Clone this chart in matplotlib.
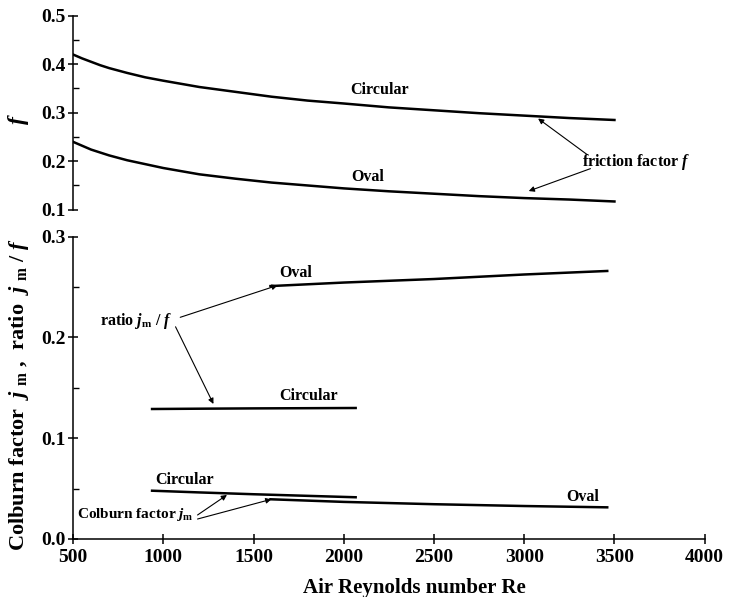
import matplotlib
matplotlib.use("Agg")
import matplotlib.pyplot as plt
from matplotlib.ticker import MultipleLocator

plt.rcParams['font.family'] = ['Liberation Serif', 'DejaVu Serif']
plt.rcParams['font.weight'] = 'bold'
plt.rcParams['axes.labelweight'] = 'bold'
plt.rcParams['mathtext.fontset'] = 'custom'
plt.rcParams['mathtext.rm'] = 'Liberation Serif:bold'
plt.rcParams['mathtext.it'] = 'Liberation Serif:bold:italic'
plt.rcParams['mathtext.bf'] = 'Liberation Serif:bold'

# ---- data ----
re_f = [500, 550, 600, 650, 700, 800, 900, 1000, 1200, 1400, 1600, 1800,
        2000, 2250, 2500, 2750, 3000, 3250, 3500]
f_circular = [0.420, 0.412, 0.405, 0.398, 0.392, 0.382, 0.373, 0.366, 0.353,
              0.343, 0.333, 0.325, 0.319, 0.311, 0.305, 0.299, 0.294, 0.289, 0.285]
f_oval = [0.240, 0.232, 0.224, 0.218, 0.212, 0.202, 0.194, 0.186, 0.173,
          0.164, 0.156, 0.150, 0.144, 0.138, 0.133, 0.128, 0.124, 0.121, 0.117]

re_circ = [938, 1200, 1500, 1800, 2066]
ratio_circular = [0.129, 0.1293, 0.1296, 0.1298, 0.130]
j_circular = [0.0479, 0.0462, 0.0444, 0.0428, 0.0414]

re_oval = [1594, 2000, 2500, 3000, 3460]
ratio_oval = [0.251, 0.2545, 0.258, 0.2625, 0.266]
j_oval = [0.0394, 0.0368, 0.0345, 0.0327, 0.0314]

x_ticks = [500, 1000, 1500, 2000, 2500, 3000, 3500, 4000]
f_ticks = [0.1, 0.2, 0.3, 0.4, 0.5]
j_ticks = [0.0, 0.1, 0.2, 0.3]

fig = plt.figure(figsize=(7.31, 5.97), dpi=100)
ax1 = fig.add_axes([0.0999, 0.6487, 0.8641, 0.3250])
ax2 = fig.add_axes([0.0999, 0.0972, 0.8641, 0.5063])

LW = 1.8
annot_fs = 11.5
arrow = dict(arrowstyle='-|>', lw=0.8, color='k', mutation_scale=8, shrinkA=0, shrinkB=0)

# ---- top panel: friction factor ----
ax1.plot(re_f, f_circular, color='k', lw=LW)
ax1.plot(re_f, f_oval, color='k', lw=LW)
ax1.set_xlim(500, 4000)
ax1.set_ylim(0.1, 0.5)
ax1.set_yticks(f_ticks)
ax1.set_yticklabels(['%.1f' % v for v in f_ticks])
ax1.yaxis.set_minor_locator(MultipleLocator(0.05))
for s in ['top', 'right', 'bottom']:
    ax1.spines[s].set_visible(False)
ax1.spines['left'].set_linewidth(1.1)
ax1.tick_params(axis='x', bottom=False, labelbottom=False)
ax1.tick_params(axis='y', which='major', direction='inout', length=7, width=1.1,
                labelsize=14, pad=2)
ax1.tick_params(axis='y', which='minor', direction='in', length=4, width=1.0)
ax1.set_ylabel(r'$f$', fontsize=17)
ax1.yaxis.set_label_coords(-0.067, 0.465)

ax1.text(2201, 0.3465, 'Circular', fontsize=annot_fs, ha='center', va='center')
ax1.text(2131, 0.1675, 'Oval', fontsize=annot_fs, ha='center', va='center')
ax1.text(3318, 0.1991, r'friction factor $f$', fontsize=annot_fs, ha='left',
         va='center', clip_on=False)
ax1.annotate('', xy=(3077, 0.288), xytext=(3349, 0.2136), arrowprops=arrow)
ax1.annotate('', xy=(3025, 0.1385), xytext=(3367, 0.1847), arrowprops=arrow)

# ---- bottom panel: Colburn factor and ratio ----
ax2.plot(re_circ, ratio_circular, color='k', lw=LW)
ax2.plot(re_oval, ratio_oval, color='k', lw=LW)
ax2.plot(re_circ, j_circular, color='k', lw=LW)
ax2.plot(re_oval, j_oval, color='k', lw=LW)
ax2.set_xlim(500, 4000)
ax2.set_ylim(0.0, 0.3)
ax2.set_xticks(x_ticks)
ax2.set_xticklabels([str(v) for v in x_ticks])
ax2.set_yticks(j_ticks)
ax2.set_yticklabels(['%.1f' % v for v in j_ticks])
ax2.yaxis.set_minor_locator(MultipleLocator(0.05))
for s in ['top', 'right']:
    ax2.spines[s].set_visible(False)
for s in ['left', 'bottom']:
    ax2.spines[s].set_linewidth(1.1)
ax2.tick_params(axis='x', which='major', direction='inout', length=7, width=1.1,
                labelsize=14, pad=4)
ax2.tick_params(axis='y', which='major', direction='inout', length=7, width=1.1,
                labelsize=14, pad=2)
ax2.tick_params(axis='y', which='minor', direction='in', length=4, width=1.0)
ax2.set_xlabel('Air Reynolds number Re', fontsize=15)
ax2.xaxis.set_label_coords(0.541, -0.128)
ax2.set_ylabel(r'Colburn factor  $j$ $_{\rm m}$ ,  ratio  $j$ $_{\rm m}$ / $f$',
               fontsize=16)
ax2.yaxis.set_label_coords(-0.066, 0.476)

ax2.text(1736, 0.264, 'Oval', fontsize=annot_fs, ha='center', va='center')
ax2.text(648, 0.216, r'ratio $j_{\rm m}$ / $f$', fontsize=annot_fs, ha='left',
         va='center')
ax2.annotate('', xy=(1633, 0.2517), xytext=(1094, 0.220), arrowprops=arrow)
ax2.annotate('', xy=(1278, 0.134), xytext=(1068, 0.2106), arrowprops=arrow)
ax2.text(1806, 0.142, 'Circular', fontsize=annot_fs, ha='center', va='center')
ax2.text(1119, 0.0585, 'Circular', fontsize=annot_fs, ha='center', va='center')
ax2.text(3323, 0.042, 'Oval', fontsize=annot_fs, ha='center', va='center')
ax2.text(522, 0.0238, r'Colburn factor $j_{\rm m}$', fontsize=11,
         ha='left', va='center')
ax2.annotate('', xy=(1353, 0.0437), xytext=(1190, 0.0238), arrowprops=arrow)
ax2.annotate('', xy=(1599, 0.0394), xytext=(1190, 0.0198), arrowprops=arrow)

fig.savefig('out.png', dpi=100)
